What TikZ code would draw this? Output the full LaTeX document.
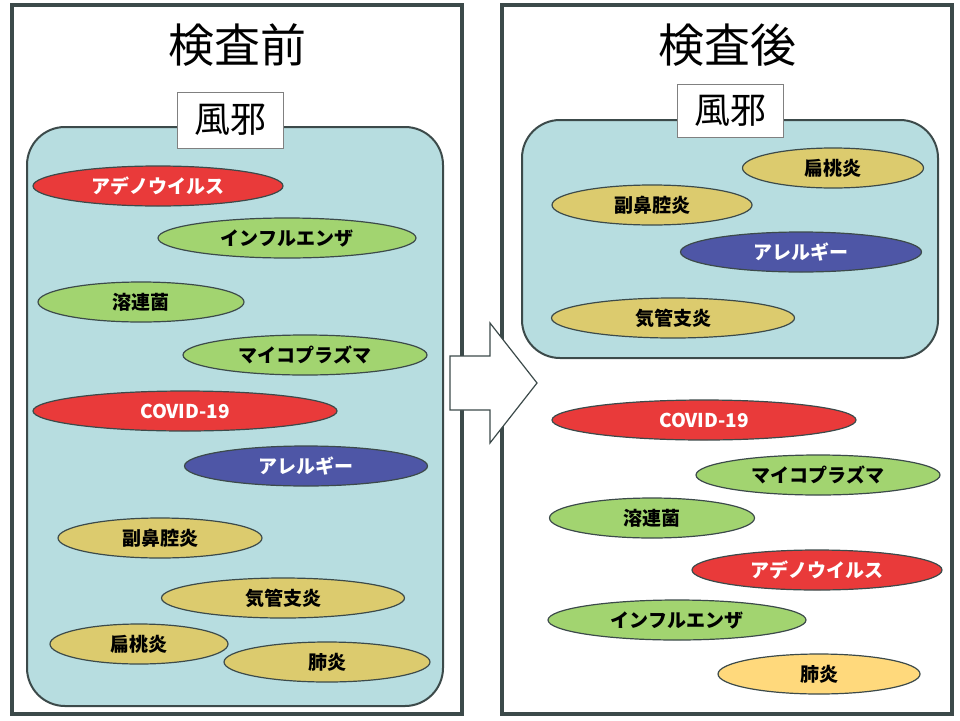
\documentclass[tikz,border=0pt]{standalone}
\usepackage{fontspec}
\setmainfont{Noto Sans CJK JP}
\usepackage{tikz}
\usetikzlibrary{shapes.geometric}
\definecolor{frame}{HTML}{3C4A4A}
\definecolor{boxblue}{HTML}{B7DDE0}
\definecolor{dred}{HTML}{E93A3A}
\definecolor{dgreen}{HTML}{A2D470}
\definecolor{dblue}{HTML}{4E56A6}
\definecolor{dyellow}{HTML}{DCCB6E}
\definecolor{dpale}{HTML}{FFD97C}
\tikzset{
% Ellipse styles for the illness names, one per colour
ill/.style={ellipse,draw=frame,line width=1.2pt,inner sep=0,minimum height=40pt,font=\fontsize{19}{19}\selectfont\bfseries},
red node/.style={ill,fill=dred,text=white},
green node/.style={ill,fill=dgreen},
blue node/.style={ill,fill=dblue,text=white},
yellow node/.style={ill,fill=dyellow},
pale node/.style={ill,fill=dpale},
% Panels and the label tag
panel/.style={draw=frame,line width=3.5pt},
group/.style={draw=frame,line width=2pt,fill=boxblue,rounded corners=38pt},
tag/.style={draw=gray,line width=1pt,fill=white,inner sep=0,minimum width=106pt,minimum height=56pt,font=\fontsize{36}{36}\selectfont}
}
\begin{document}
\begin{tikzpicture}[x=1pt,y=-1pt]
\useasboundingbox (0,0) rectangle (960,720);
% Panels
\draw[panel] (12,5) rectangle (462,714);
\draw[panel] (502,5) rectangle (952,714);
\node (t1) at (237,45) {\fontsize{46}{46}\selectfont 検査前};
\node (t2) at (727,45) {\fontsize{46}{46}\selectfont 検査後};
% Groups
\draw[group] (27,127) rectangle (443,706);
\node[tag] (k1) at (230,120) {風邪};
\draw[group] (522,120) rectangle (938,358);
\node[tag,minimum height=53pt] (k2) at (730,111) {風邪};
% Arrow
\draw[frame,line width=1.2pt,fill=white] (450,356) -- (490,356) -- (490,323) -- (537,383) -- (490,443) -- (490,410) -- (450,410) -- cycle;
% Before
\node[red node,minimum width=250pt] (a1) at (158,186) {アデノウイルス};
\node[green node,minimum width=258pt] (a2) at (287,238) {インフルエンザ};
\node[green node,minimum width=206pt] (a3) at (141,302) {溶連菌};
\node[green node,minimum width=244pt] (a4) at (305,355) {マイコプラズマ};
\node[red node,minimum width=304pt] (a5) at (185,411) {COVID-19};
\node[blue node,minimum width=243pt] (a6) at (306,466) {アレルギー};
\node[yellow node,minimum width=204pt] (a7) at (160,538) {副鼻腔炎};
\node[yellow node,minimum width=243pt] (a8) at (283,598) {気管支炎};
\node[yellow node,minimum width=178pt] (a9) at (139,644) {扁桃炎};
\node[yellow node,minimum width=206pt] (a10) at (327,662) {肺炎};
% After
\node[yellow node,minimum width=181pt] (b1) at (833,168) {扁桃炎};
\node[yellow node,minimum width=200pt] (b2) at (652,205) {副鼻腔炎};
\node[blue node,minimum width=241pt] (b3) at (801,252) {アレルギー};
\node[yellow node,minimum width=243pt] (b4) at (673,318) {気管支炎};
\node[red node,minimum width=304pt] (b5) at (704,420) {COVID-19};
\node[green node,minimum width=244pt] (b6) at (818,475) {マイコプラズマ};
\node[green node,minimum width=205pt] (b7) at (652,518) {溶連菌};
\node[red node,minimum width=250pt] (b8) at (817,570) {アデノウイルス};
\node[green node,minimum width=258pt] (b9) at (677,620) {インフルエンザ};
\node[pale node,minimum width=202pt] (b10) at (819,674) {肺炎};
\end{tikzpicture}
\end{document}
